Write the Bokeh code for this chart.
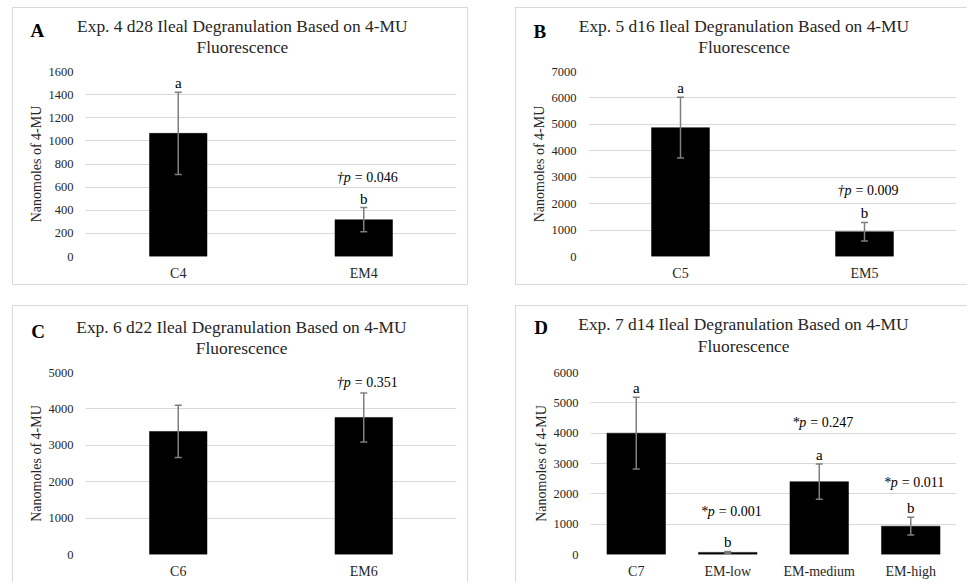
from bokeh.plotting import figure
from bokeh.models import (ColumnDataSource, Whisker, TeeHead, Range1d,
                          SingleIntervalTicker, Spacer, Title)
from bokeh.layouts import row, column
from bokeh.core.properties import value
from bokeh.embed import file_html
from bokeh.resources import INLINE

FONT = "Liberation Serif"

# ---------------- data ----------------
a_cats = ["C4", "EM4"]
a_means = [1065, 318]
a_errs = [355, 105]
a_letters = ["a", "b"]
a_pvals = ["", "0.046"]
a_title = "Exp. 4 d28 Ileal Degranulation  Based on 4-MU"

b_cats = ["C5", "EM5"]
b_means = [4875, 940]
b_errs = [1150, 350]
b_letters = ["a", "b"]
b_pvals = ["", "0.009"]
b_title = "Exp. 5 d16 Ileal Degranulation  Based on 4-MU"

c_cats = ["C6", "EM6"]
c_means = [3380, 3765]
c_errs = [718, 672]
c_letters = ["", ""]
c_pvals = ["", "0.351"]
c_title = "Exp. 6 d22 Ileal Degranulation  Based on 4-MU"

d_cats = ["C7", "EM-low", "EM-medium", "EM-high"]
d_means = [4000, 70, 2400, 935]
d_errs = [1180, 30, 580, 290]
d_letters = ["a", "b", "a", "b"]
d_pvals = ["", "0.001", "0.247", "0.011"]
d_title = "Exp. 7 d14 Ileal Degranulation  Based on 4-MU"

title_line2 = "Fluorescence"
y_label = "Nanomoles of 4-MU"

GRID = "#d9d9d9"
ERR = "#7f7f7f"
TXT = "#262626"


def make_panel(cats, means, errs, letters, pvals, psym, title1, letter,
               ymax, ystep, width, height, borders, bar_w, p_offsets,
               title_center, letter_left, standoffs, border_css):
    ml, mr, mt, mb = borders
    s2, s1, s3 = standoffs
    p = figure(x_range=cats, y_range=Range1d(0, ymax), width=width, height=height,
               output_backend="svg", toolbar_location=None,
               min_border_left=ml, min_border_right=mr,
               min_border_top=mt, min_border_bottom=mb,
               styles=border_css)
    p.outline_line_color = None
    p.background_fill_color = "white"
    p.border_fill_color = "white"

    # titles: second line closest to the frame, first line above it, panel letter last
    p.add_layout(Title(text=title_line2, text_font=FONT, text_font_size="17.4px",
                       text_font_style="normal", align="left",
                       offset=title_center - 45.5,
                       standoff=s2, text_color=TXT), "above")
    p.add_layout(Title(text=title1, text_font=FONT, text_font_size="17.4px",
                       text_font_style="normal", align="left",
                       offset=title_center - 165,
                       standoff=s1, text_color=TXT), "above")
    p.add_layout(Title(text=letter, text_font=FONT, text_font_size="19px",
                       text_font_style="bold", align="left", offset=letter_left,
                       standoff=s3, text_color="black"), "above")

    p.vbar(x=cats, top=means, width=bar_w, fill_color="black", line_color="black",
           line_width=0.5)

    uppers = [m + e for m, e in zip(means, errs)]
    lowers = [m - e for m, e in zip(means, errs)]
    src = ColumnDataSource(dict(cat=cats, upper=uppers, lower=lowers))
    w = Whisker(base="cat", upper="upper", lower="lower", source=src,
                line_color=ERR, line_width=1.5, level="annotation",
                upper_head=TeeHead(size=7, line_color=ERR, line_width=1.5),
                lower_head=TeeHead(size=7, line_color=ERR, line_width=1.5))
    p.add_layout(w)

    # significance letters
    ls = ColumnDataSource(dict(x=cats, y=uppers, t=letters))
    p.text(x="x", y="y", text="t", source=ls, text_font=value(FONT),
           text_font_size="15px", text_align="center", text_baseline="middle",
           y_offset=-9, text_color="black")

    # p-value labels
    for c, u, pv, off in zip(cats, uppers, pvals, p_offsets):
        if not pv:
            continue
        s = ColumnDataSource(dict(x=[c], y=[u], t1=[psym + "p"], t2=["= " + pv]))
        p.text(x="x", y="y", text="t1", source=s, text_font=value(FONT),
               text_font_size="14px", text_font_style="italic", text_align="right",
               text_baseline="middle", x_offset=-13, y_offset=-off, text_color="black")
        p.text(x="x", y="y", text="t2", source=s, text_font=value(FONT),
               text_font_size="14px", text_align="left",
               text_baseline="middle", x_offset=-9, y_offset=-off, text_color="black")

    # axes
    p.xgrid.grid_line_color = None
    p.ygrid.grid_line_color = GRID
    p.ygrid.grid_line_width = 1.2
    p.yaxis.ticker = SingleIntervalTicker(interval=ystep)
    for ax in (p.xaxis[0], p.yaxis[0]):
        ax.axis_line_color = None
        ax.major_tick_line_color = None
        ax.minor_tick_line_color = None
        ax.major_tick_out = 0
        ax.major_tick_in = 0
        ax.minor_tick_out = 0
        ax.major_label_text_font = FONT
        ax.major_label_text_color = TXT
    p.yaxis.major_label_text_font_size = "12.5px"
    p.yaxis.major_label_standoff = 12
    p.xaxis.major_label_text_font_size = "14px"
    p.xaxis.major_label_standoff = 9
    p.yaxis.axis_label = y_label
    p.yaxis.axis_label_text_font = FONT
    p.yaxis.axis_label_text_font_size = "14px"
    p.yaxis.axis_label_text_font_style = "normal"
    p.yaxis.axis_label_text_color = TXT
    p.yaxis.axis_label_standoff = 2
    return p


B = "1px solid #d9d9d9"
full = {"border": B}
no_right = {"border-top": B, "border-left": B, "border-bottom": B}
no_bottom = {"border-top": B, "border-left": B, "border-right": B}
top_left = {"border-top": B, "border-left": B}

pA = make_panel(a_cats, a_means, a_errs, a_letters, a_pvals, "\u2020", a_title, "A",
                1600, 200, 456, 278, (72, 13, 63, 30), 0.31, [0, 30],
                156.6, -55, (30, -32, -43.6), full)
pB = make_panel(b_cats, b_means, b_errs, b_letters, b_pvals, "\u2020", b_title, "B",
                7000, 1000, 452, 278, (72, 12, 63, 30), 0.315, [0, 32],
                155.3, -55, (30, -32, -45.6), no_right)
pC = make_panel(c_cats, c_means, c_errs, c_letters, c_pvals, "\u2020", c_title, "C",
                5000, 1000, 456, 277, (72, 13, 64, 28), 0.31, [0, 10],
                155.8, -54.3, (30, -32, -42.4), no_bottom)
pD = make_panel(d_cats, d_means, d_errs, d_letters, d_pvals, "*", d_title, "D",
                6000, 1000, 452, 277, (74, 12, 66, 29), 0.64, [0, 40, 42, 35],
                152.8, -56.3, (32.6, -33.2, -41.6), top_left)

layout = column(
    Spacer(height=7),
    row(Spacer(width=12), pA, Spacer(width=47), pB),
    Spacer(height=20),
    row(Spacer(width=12), pC, Spacer(width=47), pD),
)

open("out.html", "w").write(file_html(layout, INLINE))
